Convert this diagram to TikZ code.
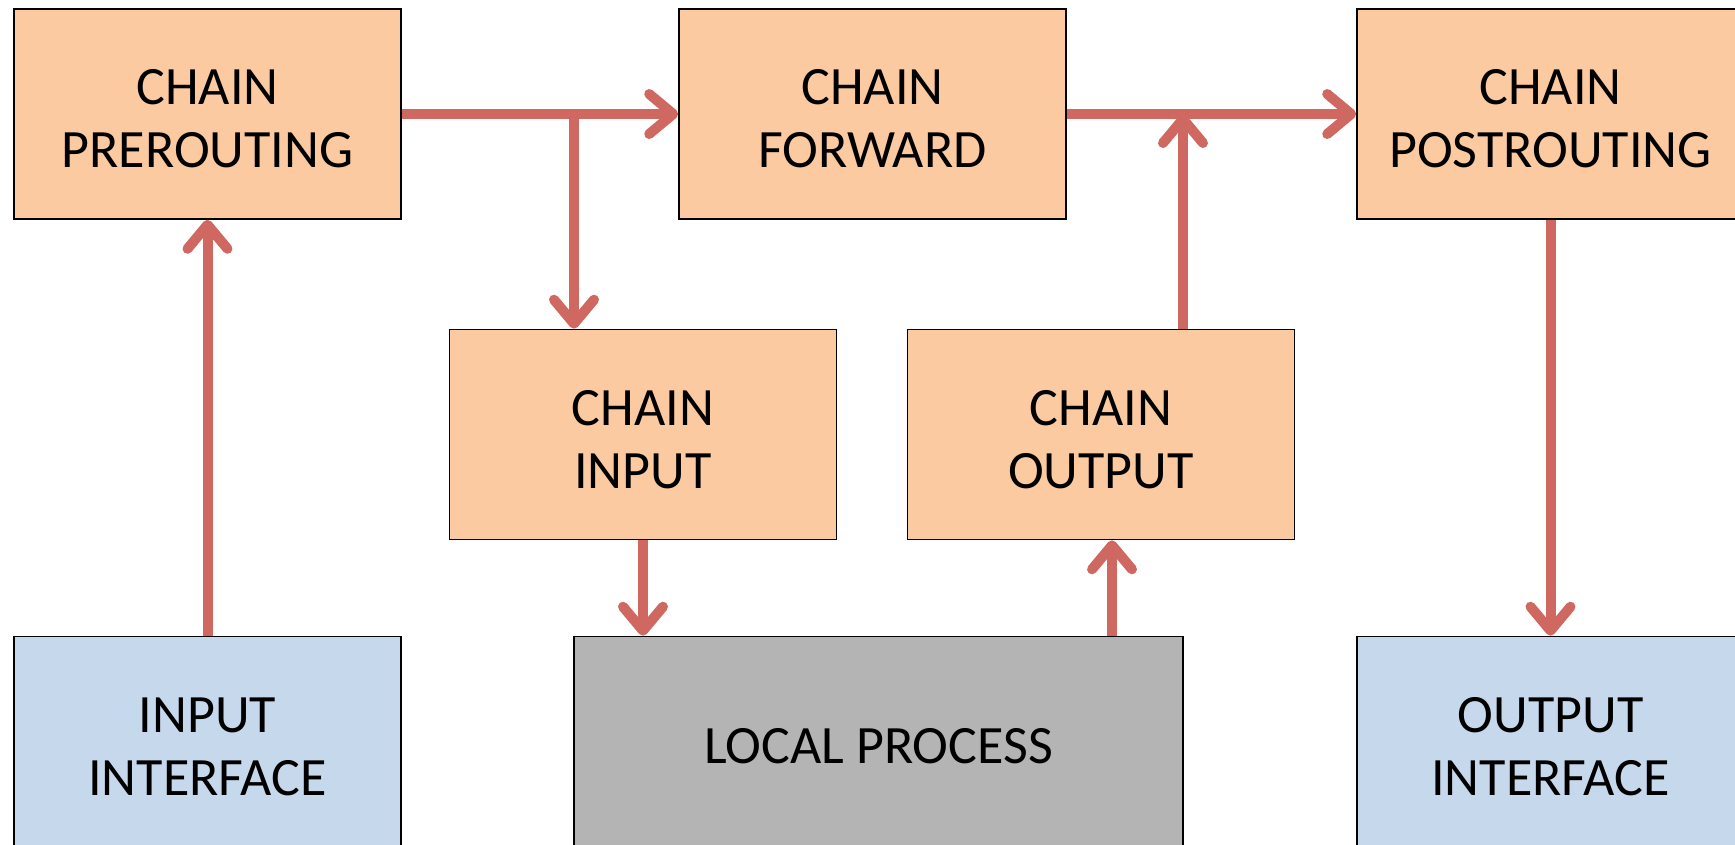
\documentclass[tikz,border=0pt]{standalone}
\usepackage{fontspec}
\setmainfont{Carlito}
\usetikzlibrary{arrows.meta}
\definecolor{chainfill}{HTML}{FBCAA1}
\definecolor{iffill}{HTML}{C6D8EC}
\definecolor{procfill}{HTML}{B4B4B4}
\definecolor{flow}{HTML}{CE6861}
% centred label lines, with extra room above so they sit a little low in their box
\newcommand\boxtext[1]{\raisebox{0pt}[\dimexpr\height+19pt\relax][\depth]{\begin{tabular}{@{}c@{}}#1\end{tabular}}}
\begin{document}
\begin{tikzpicture}[x=1pt,y=-1pt,
  box/.style={draw=black, line width=1.6pt, minimum width=387pt, minimum height=210pt,
    inner sep=0pt, font=\fontsize{54}{63}\selectfont},
  chainbox/.style={box, fill=chainfill},
  ifbox/.style={box, fill=iffill},
  procbox/.style={box, fill=procfill, minimum width=609pt},
  flowarrow/.style={draw=flow, line width=10pt,
    -{Straight Barb[length=24pt,width=40pt,round]}}
]
\useasboundingbox (0,0) rectangle (1735,844);
\clip (0,0) rectangle (1735,844);

% chains
\node[chainbox] (pre)  at (207.5,114)  {\boxtext{CHAIN\\PREROUTING}};
\node[chainbox] (fwd)  at (872.5,114)  {\boxtext{CHAIN\\FORWARD}};
\node[chainbox] (post) at (1550.5,114) {\boxtext{CHAIN\\POSTROUTING}};
\node[chainbox] (in)   at (643,434.5)  {\boxtext{CHAIN\\INPUT}};
\node[chainbox] (out)  at (1101,434.5) {\boxtext{CHAIN\\OUTPUT}};

% interfaces and local process
\node[ifbox]   (ii) at (207.5,741.5)  {\boxtext{INPUT\\INTERFACE}};
\node[procbox] (lp) at (878.5,741.5)  {\boxtext{LOCAL PROCESS}};
\node[ifbox]   (oi) at (1550.5,741.5) {\boxtext{OUTPUT\\INTERFACE}};

% branch points on the horizontal flows
\coordinate (jin)  at (574,114);
\coordinate (jout) at (1183,114);
\coordinate (lpup) at (1112,636);

% connectors
\draw[flowarrow] (ii.north) -- (pre.south);
\draw[flowarrow] (pre.east) -- (fwd.west);
\draw[flowarrow] (jin) -- (jin |- in.north);
\draw[flowarrow] (fwd.east) -- (post.west);
\draw[flowarrow] (jout |- out.north) -- (jout);
\draw[flowarrow] (in.south) -- (in.south |- lp.north);
\draw[flowarrow] (lpup) -- (lpup |- out.south);
\draw[flowarrow] (post.south) -- (oi.north);
\end{tikzpicture}
\end{document}
